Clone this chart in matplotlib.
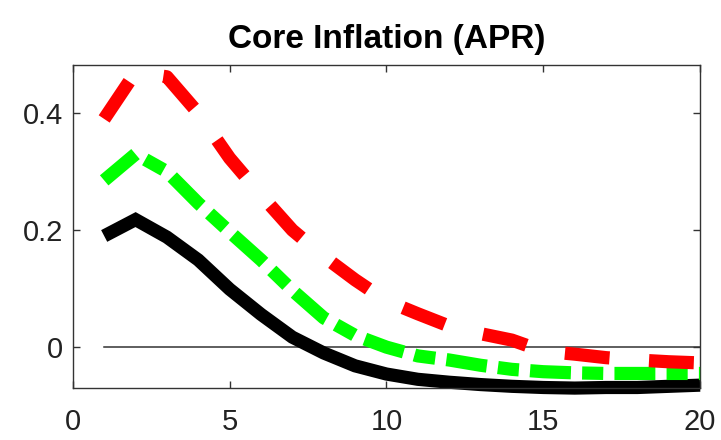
import matplotlib
matplotlib.use("Agg")
import matplotlib.pyplot as plt

plt.rcParams['font.family'] = ['Liberation Sans', 'DejaVu Sans']

horizon = list(range(1, 21))

# baseline response (black solid)
base = [0.19, 0.218, 0.188, 0.149, 0.099, 0.056, 0.017, -0.01, -0.032, -0.046,
        -0.055, -0.06, -0.064, -0.067, -0.069, -0.07, -0.069, -0.069, -0.067, -0.065]
# green dash-dot
mid = [0.285, 0.33, 0.30, 0.246, 0.197, 0.149, 0.097, 0.05, 0.02, 0.0,
       -0.015, -0.022, -0.031, -0.038, -0.042, -0.044, -0.045, -0.045, -0.045, -0.045]
# red dashed
high = [0.39, 0.47, 0.462, 0.40, 0.323, 0.26, 0.20, 0.155, 0.115, 0.079,
        0.057, 0.036, 0.023, 0.012, -0.007, -0.012, -0.018, -0.022, -0.025, -0.027]

fig = plt.figure(figsize=(7.21, 4.40), dpi=100)
ax = fig.add_axes([0.101, 0.118, 0.870, 0.734])

ax.plot([horizon[0], horizon[-1]], [0, 0], color='#333333', lw=1.1, zorder=1)
ax.plot(horizon, base, color='black', lw=9.5, solid_capstyle='butt',
        solid_joinstyle='miter', clip_on=False, zorder=2)
ax.plot(horizon, mid, color='#00ff00', lw=9.5, dashes=(3.1, 0.85, 1.6, 0.85),
        dash_capstyle='butt', clip_on=False, zorder=3)
ax.plot(horizon, high, color='#ff0000', lw=9.5, dashes=(3.4, 3.0),
        dash_capstyle='butt', clip_on=False, zorder=4)

ax.set_xlim(0, 20)
ax.set_ylim(-0.07, 0.482)
ax.set_xticks([0, 5, 10, 15, 20])
ax.set_yticks([0, 0.2, 0.4])
ax.set_yticklabels(['0', '0.2', '0.4'])
ax.tick_params(direction='in', length=5, width=1, color='#333333',
               top=True, right=True, labelsize=21, labelcolor='#222222', pad=7)
ax.tick_params(axis='x', pad=14)
for s in ax.spines.values():
    s.set_color('#333333')
    s.set_linewidth(1)

ax.set_title('Core Inflation (APR)', fontsize=24, fontweight='bold', pad=12)

fig.savefig('out.png', dpi=100)
